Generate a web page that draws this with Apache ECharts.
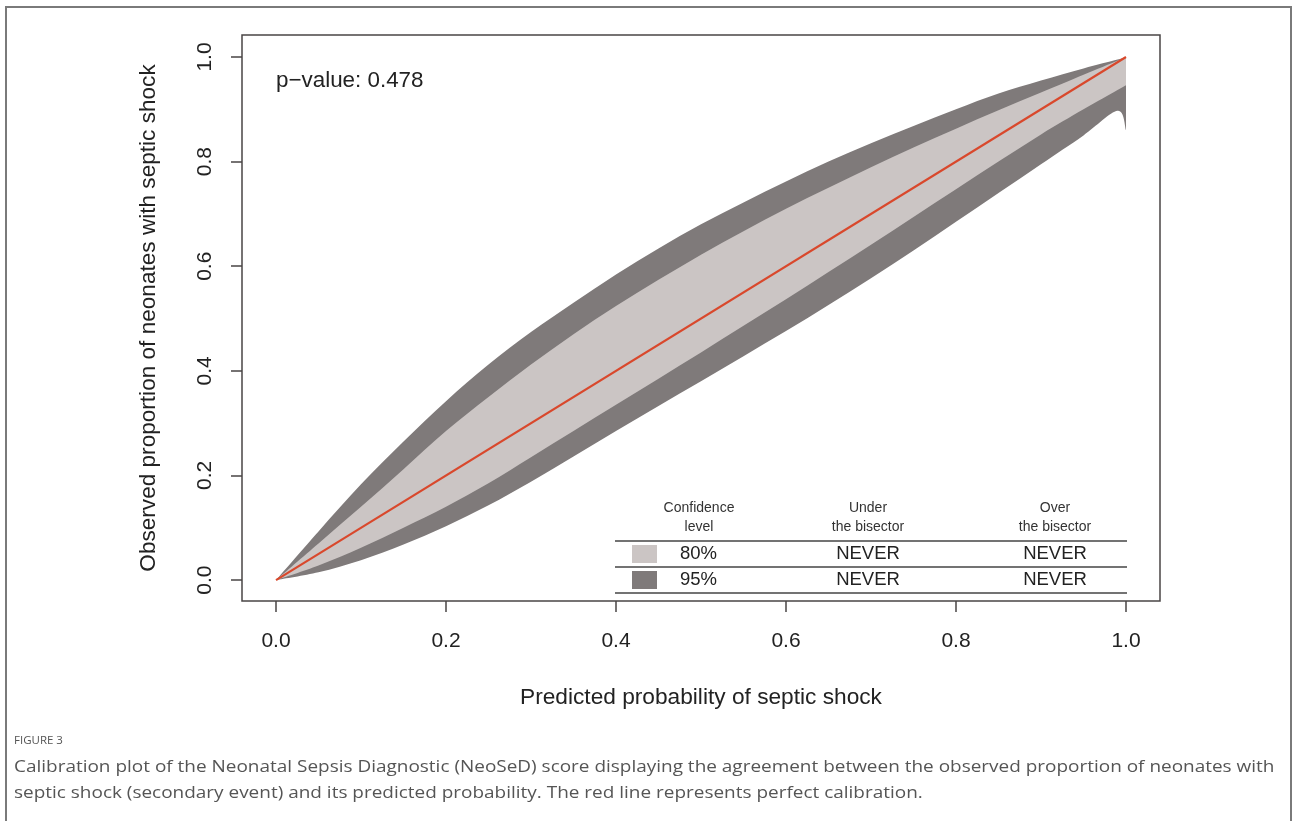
<!DOCTYPE html>
<html>
<head>
<meta charset="utf-8">
<script src="https://cdn.jsdelivr.net/npm/echarts@6/dist/echarts.min.js"></script>
<style>
html,body{margin:0;padding:0;background:#fff;}
#c{width:1292px;height:821px;}
</style>
</head>
<body>
<div id="c"></div>
<script>
// ---- data ----
const xs      = [0, 0.05, 0.1, 0.15, 0.2, 0.25, 0.3, 0.35, 0.4, 0.45, 0.5, 0.55, 0.6, 0.65, 0.7, 0.75, 0.8, 0.85, 0.9, 0.95, 0.99, 1.0];
const upper95 = [0, 0.093, 0.183, 0.265, 0.342, 0.412, 0.474, 0.53, 0.584, 0.634, 0.68, 0.722, 0.762, 0.8, 0.835, 0.868, 0.9, 0.93, 0.955, 0.978, 0.995, 1.0];
const upper80 = [0, 0.07, 0.14, 0.212, 0.285, 0.35, 0.412, 0.47, 0.524, 0.574, 0.622, 0.667, 0.71, 0.75, 0.789, 0.827, 0.863, 0.898, 0.932, 0.966, 0.993, 1.0];
const lower80 = [0, 0.028, 0.062, 0.10, 0.14, 0.185, 0.235, 0.285, 0.335, 0.385, 0.435, 0.486, 0.537, 0.589, 0.641, 0.694, 0.747, 0.80, 0.852, 0.90, 0.937, 0.946];
const lower95 = [0, 0.015, 0.038, 0.068, 0.103, 0.143, 0.188, 0.236, 0.285, 0.333, 0.38, 0.428, 0.476, 0.526, 0.577, 0.63, 0.685, 0.74, 0.795, 0.85, 0.897, 0.86];
const idealLine = [[0, 0], [1, 1]];
const tickValues = [0, 0.2, 0.4, 0.6, 0.8, 1.0];
const tickLabels = ['0.0', '0.2', '0.4', '0.6', '0.8', '1.0'];
const pValueText = 'p\u2212value: 0.478';
const tableHeader = [['Confidence', 'level'], ['Under', 'the bisector'], ['Over', 'the bisector']];
const tableRows = [
  { level: '80%', under: 'NEVER', over: 'NEVER', color: '#cbc5c4' },
  { level: '95%', under: 'NEVER', over: 'NEVER', color: '#7f7a7a' }
];
const xTitle = 'Predicted probability of septic shock';
const yTitle = 'Observed proportion of neonates with septic shock';
const figLabel = 'FIGURE 3';
const captionLines = [
  'Calibration plot of the Neonatal Sepsis Diagnostic (NeoSeD) score displaying the agreement between the observed proportion of neonates with',
  'septic shock (secondary event) and its predicted probability. The red line represents perfect calibration.'
];

const DARK = '#7f7a7a', LIGHT = '#cbc5c4', RED = '#d9482c', AX = '#4a4646';
const FONT = '"Liberation Sans", Arial, sans-serif';

// smooth path through pixel points (Catmull-Rom -> cubic Bezier)
function smoothSegs(pts, t) {
  let d = '';
  for (let i = 0; i < pts.length - 1; i++) {
    const p0 = pts[Math.max(0, i - 1)], p1 = pts[i], p2 = pts[i + 1], p3 = pts[Math.min(pts.length - 1, i + 2)];
    const c1 = [p1[0] + (p2[0] - p0[0]) * t, p1[1] + (p2[1] - p0[1]) * t];
    const c2 = [p2[0] - (p3[0] - p1[0]) * t, p2[1] - (p3[1] - p1[1]) * t];
    d += ' C' + c1[0].toFixed(2) + ' ' + c1[1].toFixed(2) + ' ' + c2[0].toFixed(2) + ' ' + c2[1].toFixed(2) + ' ' + p2[0].toFixed(2) + ' ' + p2[1].toFixed(2);
  }
  return d;
}
function bandSeries(upper, lower, color, z) {
  return {
    type: 'custom', silent: true, data: [0], z: z,
    renderItem: function (params, api) {
      const up = xs.map((x, i) => api.coord([x, upper[i]]));
      const lo = xs.map((x, i) => api.coord([x, lower[i]])).reverse();
      let d = 'M' + up[0][0] + ' ' + up[0][1] + smoothSegs(up, 1 / 6);
      d += ' L' + lo[0][0] + ' ' + lo[0][1] + smoothSegs(lo, 1 / 6) + ' Z';
      return { type: 'path', shape: { pathData: d }, style: { fill: color, stroke: null } };
    }
  };
}

const chart = echarts.init(document.getElementById('c'), null, { renderer: 'canvas' });

// table layout (pixels)
const colX = [699, 868, 1055];
const tableGraphics = [];
tableHeader.forEach((h, i) => {
  tableGraphics.push({ type: 'text', x: colX[i], y: 508, style: { text: h[0], font: '14px ' + FONT, fill: '#333', textAlign: 'center', textVerticalAlign: 'middle' } });
  tableGraphics.push({ type: 'text', x: colX[i], y: 527, style: { text: h[1], font: '14px ' + FONT, fill: '#333', textAlign: 'center', textVerticalAlign: 'middle' } });
});
[541, 567, 593].forEach(y => {
  tableGraphics.push({ type: 'line', shape: { x1: 615, y1: y, x2: 1127, y2: y }, style: { stroke: '#444', lineWidth: 1.3 } });
});
tableRows.forEach((r, i) => {
  const y = 554 + i * 26;
  tableGraphics.push({ type: 'rect', shape: { x: 632, y: y - 9, width: 25, height: 18 }, style: { fill: r.color } });
  tableGraphics.push({ type: 'text', x: 680, y: y, style: { text: r.level, font: '18.5px ' + FONT, fill: '#222', textAlign: 'left', textVerticalAlign: 'middle' } });
  tableGraphics.push({ type: 'text', x: colX[1], y: y, style: { text: r.under, font: '18.5px ' + FONT, fill: '#222', textAlign: 'center', textVerticalAlign: 'middle' } });
  tableGraphics.push({ type: 'text', x: colX[2], y: y, style: { text: r.over, font: '18.5px ' + FONT, fill: '#222', textAlign: 'center', textVerticalAlign: 'middle' } });
});

const option = {
  backgroundColor: '#fff',
  animation: false,
  grid: { left: 242, top: 35, width: 918, height: 566, show: true, borderColor: AX, borderWidth: 1.5, backgroundColor: 'transparent' },
  xAxis: {
    type: 'value', min: -0.04, max: 1.04,
    axisLine: { show: false, onZero: false },
    splitLine: { show: false },
    axisTick: { show: true, length: 11, inside: false, lineStyle: { color: AX, width: 1.5 }, customValues: tickValues },
    axisLabel: { customValues: tickValues, formatter: v => tickLabels[tickValues.indexOf(Math.round(v * 10) / 10)], fontSize: 21, fontFamily: FONT, color: '#222', margin: 30 },
    name: xTitle, nameLocation: 'middle', nameGap: 85,
    nameTextStyle: { fontSize: 22.7, fontFamily: FONT, color: '#222' }
  },
  yAxis: {
    type: 'value', min: -0.04, max: 1.042,
    axisLine: { show: false, onZero: false },
    splitLine: { show: false },
    axisTick: { show: true, length: 11, inside: false, lineStyle: { color: AX, width: 1.5 }, customValues: tickValues },
    axisLabel: { customValues: tickValues, rotate: 90, formatter: v => tickLabels[tickValues.indexOf(Math.round(v * 10) / 10)], fontSize: 21, fontFamily: FONT, color: '#222', margin: 26, align: 'center', verticalAlign: 'bottom' },
    name: yTitle, nameLocation: 'middle', nameGap: 82,
    nameTextStyle: { fontSize: 22.6, fontFamily: FONT, color: '#222' }
  },
  series: [
    bandSeries(upper95, lower95, DARK, 2),
    bandSeries(upper80, lower80, LIGHT, 3),
    {
      type: 'line', data: idealLine, showSymbol: false, silent: true,
      lineStyle: { color: RED, width: 2.2 }, z: 5
    }
  ],
  graphic: [
    { type: 'rect', shape: { x: 6, y: 7, width: 1285, height: 830 }, style: { fill: null, stroke: '#7a7a7a', lineWidth: 2 }, z: 0 },
    { type: 'text', x: 276, y: 81, style: { text: pValueText, font: '22.4px ' + FONT, fill: '#222', textVerticalAlign: 'middle' } },
    { type: 'text', x: 14, y: 741, style: { text: figLabel, font: '11.5px "Open Sans", sans-serif', fill: '#555', textVerticalAlign: 'middle' } },
    { type: 'text', x: 14, y: 767, scaleX: 1.115, style: { text: captionLines[0], font: '17px "Open Sans", sans-serif', fill: '#555', textVerticalAlign: 'middle' } },
    { type: 'text', x: 14, y: 793, scaleX: 1.115, style: { text: captionLines[1], font: '17px "Open Sans", sans-serif', fill: '#555', textVerticalAlign: 'middle' } }
  ].concat(tableGraphics)
};
chart.setOption(option);
</script>
</body>
</html>
